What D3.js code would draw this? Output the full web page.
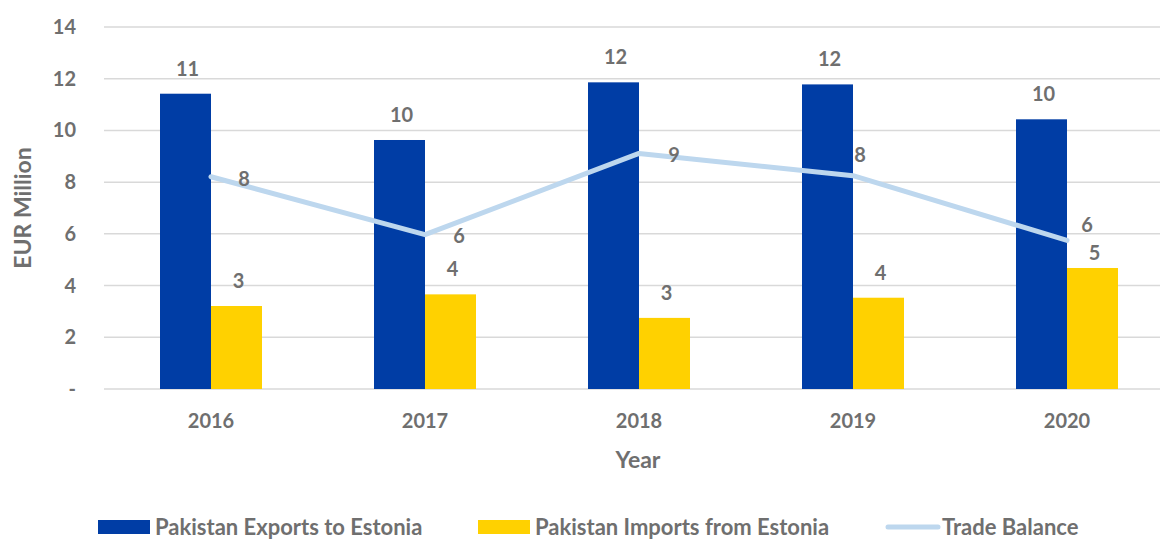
<!DOCTYPE html>
<html>
<head>
<meta charset="utf-8">
<script src="https://cdn.jsdelivr.net/npm/d3@7"></script>
<style>
  body { margin: 0; background: #fff; }
  text { font-family: Lato, "Open Sans", sans-serif; font-weight: bold; fill: #6F6F6F; }
</style>
</head>
<body>
<svg id="chart" width="1160" height="540"></svg>
<script>
const years = ["2016", "2017", "2018", "2019", "2020"];
const exportsToEstonia = [11.42, 9.63, 11.86, 11.78, 10.43];
const importsFromEstonia = [3.21, 3.66, 2.75, 3.53, 4.68];
const tradeBalance = [8.21, 5.97, 9.11, 8.25, 5.75];
const yTicks = [0, 2, 4, 6, 8, 10, 12, 14];
const seriesNames = ["Pakistan Exports to Estonia", "Pakistan Imports from Estonia", "Trade Balance"];

const colors = { exp: "#003DA5", imp: "#FFD100", bal: "#BDD7EE", grid: "#D9D9D9" };

// hand-placed label offsets, as in the source chart
const balanceLabelOffset = [[33, 2], [34, 1], [35, 2], [7, -21], [20, -15]];
const importLabelGap = [25, 25, 25, 25, 15];

const svg = d3.select("#chart");
const plotLeft = 104, plotRight = 1174, plotTop = 27, plotBottom = 389;

const x = d3.scaleBand().domain(years).range([plotLeft, plotRight]);
const y = d3.scaleLinear().domain([0, 14]).range([plotBottom, plotTop]);
const barW = 51;
const mid = d => x(d) + x.bandwidth() / 2;

// gridlines
svg.append("g")
  .selectAll("line")
  .data(yTicks)
  .enter().append("line")
    .attr("x1", plotLeft).attr("x2", 1160)
    .attr("y1", d => y(d)).attr("y2", d => y(d))
    .attr("stroke", colors.grid)
    .attr("stroke-width", 1.5);

// y tick labels
svg.append("g")
  .selectAll("text")
  .data(yTicks)
  .enter().append("text")
    .attr("x", 76)
    .attr("y", d => y(d))
    .attr("dy", "0.35em")
    .attr("text-anchor", "end")
    .style("font-size", "20px")
    .text(d => d === 0 ? "-" : d);

// x tick labels
svg.append("g")
  .selectAll("text")
  .data(years)
  .enter().append("text")
    .attr("x", d => mid(d))
    .attr("y", 421)
    .attr("dy", "0.35em")
    .attr("text-anchor", "middle")
    .style("font-size", "20px")
    .text(d => d);

// axis titles
svg.append("text")
  .attr("transform", "translate(23,208) rotate(-90)")
  .attr("dy", "0.35em")
  .attr("text-anchor", "middle")
  .style("font-size", "23px")
  .text("EUR Million");

svg.append("text")
  .attr("x", 638)
  .attr("y", 460)
  .attr("dy", "0.35em")
  .attr("text-anchor", "middle")
  .style("font-size", "23px")
  .text("Year");

// bars
svg.append("g")
  .selectAll("rect")
  .data(years)
  .enter().append("rect")
    .attr("x", d => mid(d) - barW)
    .attr("y", (d, i) => y(exportsToEstonia[i]))
    .attr("width", barW)
    .attr("height", (d, i) => y(0) - y(exportsToEstonia[i]))
    .attr("fill", colors.exp);

svg.append("g")
  .selectAll("rect")
  .data(years)
  .enter().append("rect")
    .attr("x", d => mid(d))
    .attr("y", (d, i) => y(importsFromEstonia[i]))
    .attr("width", barW)
    .attr("height", (d, i) => y(0) - y(importsFromEstonia[i]))
    .attr("fill", colors.imp);

// trade balance line
const line = d3.line()
  .x((d, i) => mid(years[i]))
  .y(d => y(d));

svg.append("path")
  .datum(tradeBalance)
  .attr("d", line)
  .attr("fill", "none")
  .attr("stroke", colors.bal)
  .attr("stroke-width", 5)
  .attr("stroke-linecap", "round")
  .attr("stroke-linejoin", "round");

// data labels
svg.append("g")
  .selectAll("text")
  .data(years)
  .enter().append("text")
    .attr("x", d => mid(d) - barW / 2 + 2)
    .attr("y", (d, i) => y(exportsToEstonia[i]) - 25)
    .attr("dy", "0.35em")
    .attr("text-anchor", "middle")
    .style("font-size", "20px")
    .text((d, i) => Math.round(exportsToEstonia[i]));

svg.append("g")
  .selectAll("text")
  .data(years)
  .enter().append("text")
    .attr("x", d => mid(d) + barW / 2 + 2)
    .attr("y", (d, i) => y(importsFromEstonia[i]) - importLabelGap[i])
    .attr("dy", "0.35em")
    .attr("text-anchor", "middle")
    .style("font-size", "20px")
    .text((d, i) => Math.round(importsFromEstonia[i]));

svg.append("g")
  .selectAll("text")
  .data(years)
  .enter().append("text")
    .attr("x", (d, i) => mid(d) + balanceLabelOffset[i][0])
    .attr("y", (d, i) => y(tradeBalance[i]) + balanceLabelOffset[i][1])
    .attr("dy", "0.35em")
    .attr("text-anchor", "middle")
    .style("font-size", "20px")
    .text((d, i) => Math.round(tradeBalance[i]));

// legend
const legendX = [98, 478, 885];
const legend = svg.append("g");
seriesNames.forEach((name, i) => {
  const g = legend.append("g").attr("transform", "translate(" + legendX[i] + ",527)");
  if (i < 2) {
    g.append("rect")
      .attr("x", 0).attr("y", -7)
      .attr("width", 52).attr("height", 14)
      .attr("fill", i === 0 ? colors.exp : colors.imp);
  } else {
    g.append("line")
      .attr("x1", 3).attr("x2", 53)
      .attr("y1", 0).attr("y2", 0)
      .attr("stroke", colors.bal)
      .attr("stroke-width", 5)
      .attr("stroke-linecap", "round");
  }
  g.append("text")
    .attr("x", 57)
    .attr("dy", "0.35em")
    .style("font-size", "22px")
    .text(name);
});
</script>
</body>
</html>
